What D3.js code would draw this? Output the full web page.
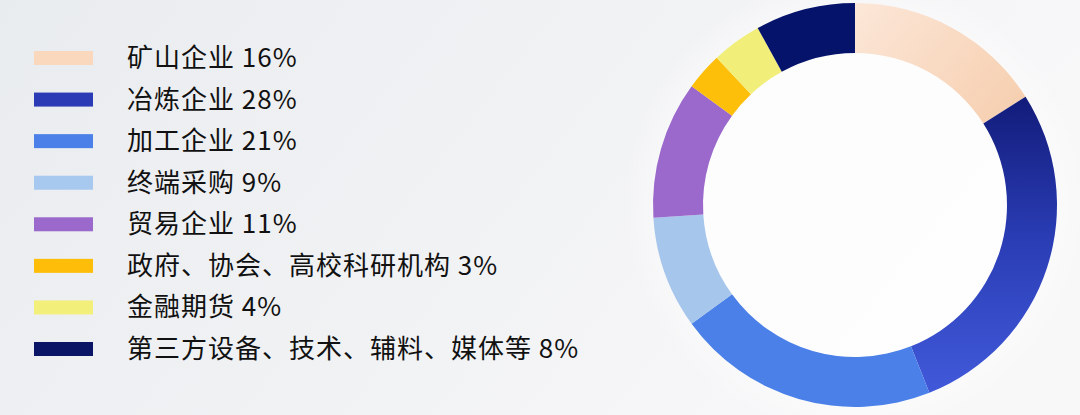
<!DOCTYPE html>
<html>
<head>
<meta charset="utf-8">
<script src="https://cdn.jsdelivr.net/npm/d3@7"></script>
<style>
  html, body { margin: 0; padding: 0; overflow: hidden; }
  body { width: 1080px; height: 415px; }
</style>
</head>
<body>
<script>
var categories = ["矿山企业", "冶炼企业", "加工企业", "终端采购", "贸易企业", "政府、协会、高校科研机构", "金融期货", "第三方设备、技术、辅料、媒体等"];
var shares = [16, 28, 21, 9, 11, 3, 4, 8];
var legendColors = ["#fad8be", "#2a3bb5", "#4a80e8", "#a7c8ef", "#9b68cc", "#fdbd08", "#f3ef7b", "#0a1566"];

var width = 1080, height = 415;
var cx = 855, cy = 205, outerR = 202, innerR = 152;

var svg = d3.select("body").append("svg")
    .attr("width", width)
    .attr("height", height);

var defs = svg.append("defs");

// background wash, greyer on the left
var bg = defs.append("linearGradient").attr("id", "bg")
    .attr("x1", "0").attr("y1", "0").attr("x2", "1").attr("y2", "0.3");
bg.append("stop").attr("offset", "0").attr("stop-color", "#e9ecef");
bg.append("stop").attr("offset", "0.55").attr("stop-color", "#f1f2f4");
bg.append("stop").attr("offset", "1").attr("stop-color", "#f8f8f9");

var glow = defs.append("radialGradient").attr("id", "glow");
glow.append("stop").attr("offset", "0").attr("stop-color", "#ffffff");
glow.append("stop").attr("offset", "0.7").attr("stop-color", "#ffffff");
glow.append("stop").attr("offset", "1").attr("stop-color", "#ffffff").attr("stop-opacity", 0);

// slice gradients (coordinates relative to the donut centre)
var peach = defs.append("linearGradient").attr("id", "g0")
    .attr("gradientUnits", "userSpaceOnUse")
    .attr("x1", 0).attr("y1", -outerR).attr("x2", 150).attr("y2", -80);
peach.append("stop").attr("offset", "0").attr("stop-color", "#fce7d8");
peach.append("stop").attr("offset", "1").attr("stop-color", "#f6cfb0");

var deep = defs.append("linearGradient").attr("id", "g1")
    .attr("gradientUnits", "userSpaceOnUse")
    .attr("x1", 0).attr("y1", -110).attr("x2", 0).attr("y2", 180);
deep.append("stop").attr("offset", "0").attr("stop-color", "#121b79");
deep.append("stop").attr("offset", "0.5").attr("stop-color", "#2a3db5");
deep.append("stop").attr("offset", "1").attr("stop-color", "#4058d8");

var sliceFill = ["url(#g0)", "url(#g1)", "#4a80e8", "#a6c6ec", "#9b68cc", "#fdbf0a", "#f2ee7a", "#05136b"];

svg.append("rect")
    .attr("width", width)
    .attr("height", height)
    .attr("fill", "url(#bg)");

svg.append("circle")
    .attr("cx", cx).attr("cy", cy)
    .attr("r", outerR + 30)
    .attr("fill", "url(#glow)")
    .attr("opacity", 0.8);

// donut
var pie = d3.pie().sort(null).value(function(d) { return d; });
var arc = d3.arc().innerRadius(innerR).outerRadius(outerR);

svg.append("g")
    .attr("transform", "translate(" + cx + "," + cy + ")")
    .selectAll("path")
    .data(pie(shares))
    .enter()
    .append("path")
    .attr("d", arc)
    .attr("fill", function(d, i) { return sliceFill[i]; });

// legend
var rowY = d3.scalePoint()
    .domain(categories)
    .range([58, 349]);

var legend = svg.append("g").attr("class", "legend");

var item = legend.selectAll("g")
    .data(categories)
    .enter()
    .append("g")
    .attr("transform", function(d) { return "translate(0," + rowY(d) + ")"; });

item.append("rect")
    .attr("x", 34)
    .attr("y", -7)
    .attr("width", 59)
    .attr("height", 14)
    .attr("fill", function(d, i) { return legendColors[i]; });

item.append("text")
    .attr("x", 127)
    .attr("y", 2)
    .attr("dominant-baseline", "middle")
    .attr("font-family", "'Noto Sans CJK SC', 'Noto Sans', sans-serif")
    .attr("font-size", 26)
    .attr("letter-spacing", 1)
    .attr("fill", "#111")
    .text(function(d, i) { return d + " " + shares[i] + "%"; });
</script>
</body>
</html>
